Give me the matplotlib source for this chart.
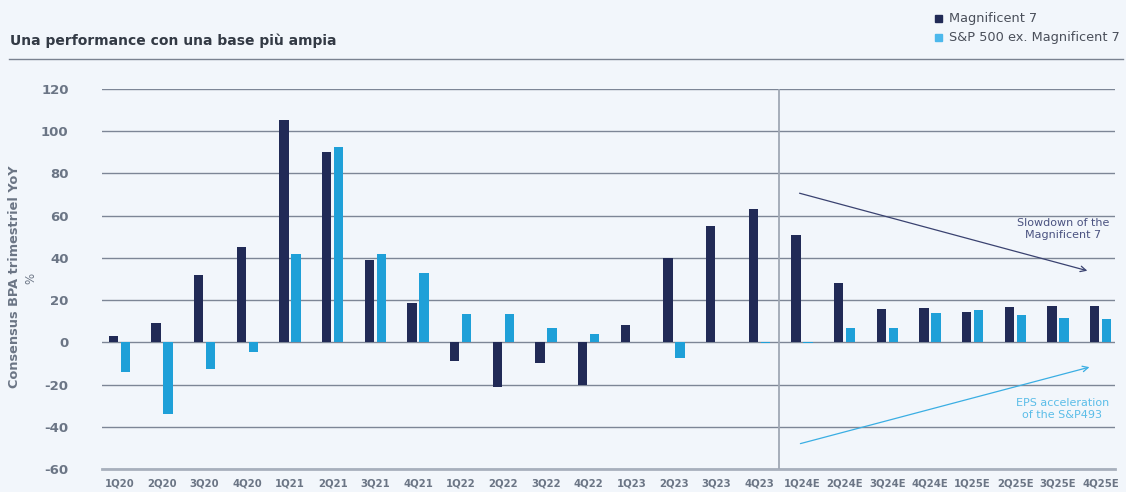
import numpy as np
import matplotlib.pyplot as plt

plt.rcParams['axes.unicode_minus'] = False

quarters = ['1Q20', '2Q20', '3Q20', '4Q20', '1Q21', '2Q21', '3Q21', '4Q21',
            '1Q22', '2Q22', '3Q22', '4Q22', '1Q23', '2Q23', '3Q23', '4Q23',
            '1Q24E', '2Q24E', '3Q24E', '4Q24E', '1Q25E', '2Q25E', '3Q25E', '4Q25E']
mag7 = [3, 9, 32, 45, 105.5, 90, 39, 18.5,
        -8.8, -21, -9.8, -20, 8, 40, 55, 63,
        50.7, 28, 16, 16.5, 14.5, 16.7, 17, 17]
sp493 = [-14, -34, -12.7, -4.7, 41.7, 92.4, 42, 33,
         13.3, 13.3, 6.6, 3.9, 0.3, -7.3, 0.3, -0.3,
         -0.5, 6.8, 7, 13.7, 15.2, 12.9, 11.7, 11]
yticks = [-60, -40, -20, 0, 20, 40, 60, 80, 100, 120]

dark = '#212a56'
light = '#1fa0d8'
grey_txt = '#6b7585'
bg = '#f2f6fb'

fig = plt.figure(figsize=(11.26, 4.92), dpi=100, facecolor=bg)
ax = fig.add_axes([0.0906, 0.0467, 0.8994, 0.7723], facecolor=bg)

x = np.arange(len(quarters))
w = 0.22
ax.bar(x - 0.14, mag7, w, color=dark, zorder=3)
ax.bar(x + 0.14, sp493, w, color=light, zorder=3)

ax.set_xlim(-0.405, 23.33)
ax.set_ylim(-60, 120)
ax.set_yticks(yticks)
ax.set_xticks(x)
ax.set_xticklabels(quarters)
for t in ax.get_yticklabels():
    t.set_fontweight('bold')
for t in ax.get_xticklabels():
    t.set_fontweight('bold')
ax.tick_params(axis='y', length=0, pad=24, labelsize=9.5, colors=grey_txt)
ax.tick_params(axis='x', length=0, pad=7, labelsize=7.3, colors=grey_txt)
ax.grid(axis='y', color='#7d8696', lw=1.0, zorder=1)
for s in ax.spines.values():
    s.set_visible(False)
ax.axhline(-60, color='#a8b0bd', lw=2, zorder=2, clip_on=False)

# separator actuals / estimates
ax.axvline(15.46, color='#a0a8b5', lw=1.3, zorder=2)

# trend arrows
ax.annotate('', xy=(22.75, 33.6), xytext=(15.88, 71),
            arrowprops=dict(arrowstyle='->', color='#3a4270', lw=0.9))
ax.annotate('', xy=(22.8, -11.4), xytext=(15.9, -48.3),
            arrowprops=dict(arrowstyle='->', color='#3aaee3', lw=0.9))
ax.text(22.12, 53.8, 'Slowdown of the\nMagnificent 7', ha='center', va='center',
        fontsize=8, color='#4a5280', linespacing=1.2)
ax.text(22.1, -31.6, 'EPS acceleration\nof the S&P493', ha='center', va='center',
        fontsize=8, color='#5bbde8', linespacing=1.2)

# y label
fig.text(0.0125, 0.437, 'Consensus BPA trimestriel YoY', rotation=90, ha='center',
         va='center', fontsize=9.3, fontweight='bold', color=grey_txt)
fig.text(0.0275, 0.435, '%', rotation=90, ha='center', va='center',
         fontsize=8.5, color=grey_txt)

# title and rule
fig.text(0.009, 0.918, 'Una performance con una base più ampia', ha='left', va='center',
         fontsize=10, fontweight='bold', color='#333a45')
fig.add_artist(plt.Line2D([0.008, 0.997], [0.88, 0.88], color='#7a8290', lw=1))

# legend
fig.patches.append(plt.Rectangle((0.8305, 0.955), 0.0065, 0.0145, color=dark,
                                 transform=fig.transFigure, figure=fig))
fig.patches.append(plt.Rectangle((0.8305, 0.916), 0.0065, 0.0145, color='#4cb8ec',
                                 transform=fig.transFigure, figure=fig))
fig.text(0.843, 0.962, 'Magnificent 7', ha='left', va='center', fontsize=9.3, color='#4a4f5a')
fig.text(0.843, 0.923, 'S&P 500 ex. Magnificent 7', ha='left', va='center', fontsize=9.3,
         color='#4a4f5a')

plt.savefig('out.png', dpi=100, facecolor=bg)
